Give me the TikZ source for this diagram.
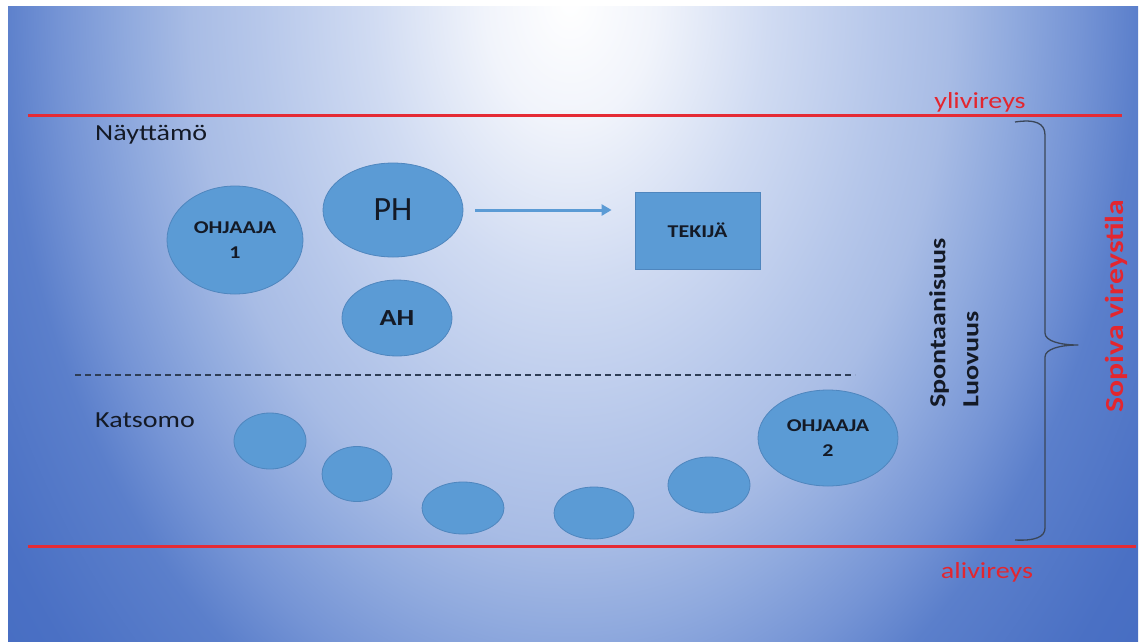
\documentclass[tikz,border=0pt]{standalone}
\usepackage{fontspec}
\setmainfont{Carlito}
\newfontfamily\cw[FakeStretch=1.22]{Carlito}
\usetikzlibrary{shapes.geometric,arrows.meta}
\definecolor{g1}{HTML}{F1F4FB}
\definecolor{g2}{HTML}{D0DBF2}
\definecolor{g3}{HTML}{B6C7EA}
\definecolor{g4}{HTML}{A8BCE5}
\definecolor{g5}{HTML}{90AADE}
\definecolor{g6}{HTML}{7594D5}
\definecolor{g7}{HTML}{5B7FCB}
\definecolor{g8}{HTML}{4A70C4}
\definecolor{g9}{HTML}{4068C0}
\definecolor{nodeblue}{HTML}{5B9BD5}
\definecolor{nodeedge}{HTML}{4F86BE}
\definecolor{ink}{HTML}{141A26}
\definecolor{redline}{HTML}{E52B35}
\definecolor{redtext}{HTML}{E3262F}
\definecolor{dashc}{HTML}{2E3D55}
\definecolor{bracec}{HTML}{3A4658}
\pgfdeclareradialshading{bgshade}{\pgfpointorigin}{color(0bp)=(white); color(3.75bp)=(g1); color(8.75bp)=(g2); color(13.75bp)=(g3); color(16.75bp)=(g4); color(19.5bp)=(g5); color(22.5bp)=(g6); color(25bp)=(g7); color(30bp)=(g8); color(37.5bp)=(g9); color(50bp)=(g9)}
\tikzset{
  person/.style={ellipse, fill=nodeblue, draw=nodeedge, line width=0.8pt, inner sep=0pt, text=ink, align=center, font=\cw\bfseries\fontsize{18}{25}\selectfont},
  boxnode/.style={rectangle, fill=nodeblue, draw=nodeedge, line width=0.8pt, inner sep=0pt, text=ink, font=\cw\bfseries\fontsize{18}{22}\selectfont},
  redrule/.style={draw=redline, line width=3pt},
  redlabel/.style={text=redtext, inner sep=0pt, font=\cw\fontsize{23}{26}\selectfont},
  zonelabel/.style={text=ink, inner sep=0pt, anchor=base west, font=\cw\fontsize{23}{26}\selectfont},
  flowarrow/.style={draw=nodeblue, line width=3pt, -{Triangle[length=10pt,width=11pt]}},
  divider/.style={draw=dashc, line width=2pt, dash pattern=on 6pt off 4pt},
  bracepath/.style={draw=bracec, line width=1.3pt, line join=round}
}
\begin{document}
\begin{tikzpicture}[x=1pt,y=-1pt]
\useasboundingbox (0,0) rectangle (1144,641);
\fill[white] (0,0) rectangle (1144,641);
\begin{scope}
  \clip (8,6) rectangle (1144,641);
  \shade[shading=bgshade] (2,-808) rectangle (1138,808);
\end{scope}

% level lines
\coordinate (topL) at (28,115);
\coordinate (topR) at (1122,115);
\coordinate (botL) at (28,546);
\coordinate (botR) at (1136,546);
\draw[redrule] (topL) -- (topR);
\draw[redrule] (botL) -- (botR);
\node[redlabel, anchor=base] (yli) at (980,108) {ylivireys};
\node[redlabel, anchor=base] (ali) at (987,578) {alivireys};

% zone labels
\node[zonelabel] (nay) at (95,140) {Näyttämö};
\node[zonelabel] (kat) at (95,427) {Katsomo};

% stage
\node[person, minimum width=136pt, minimum height=108pt] (oh1) at (235,240) {OHJAAJA\\1};
\node[person, minimum width=140pt, minimum height=94pt, font=\fontsize{34}{40}\selectfont] (ph) at (393,210) {PH};
\node[person, minimum width=110pt, minimum height=76pt, font=\cw\bfseries\fontsize{23}{26}\selectfont] (ah) at (397,318) {AH};
\node[boxnode, minimum width=125pt, minimum height=77pt] (tek) at (697.5,230.5) {TEKIJÄ};
\draw[flowarrow, shorten <=12pt, shorten >=23pt] (ph.east) -- (ph.east -| tek.west);

% divider
\coordinate (dL) at (75,375);
\coordinate (dR) at (855,375);
\draw[divider] (dL) -- (dR);

% audience
\node[person, minimum width=72pt, minimum height=56pt] (a1) at (270,441) {};
\node[person, minimum width=70pt, minimum height=55pt] (a2) at (357,474) {};
\node[person, minimum width=82pt, minimum height=52pt] (a3) at (463,508) {};
\node[person, minimum width=80pt, minimum height=52pt] (a4) at (594,513) {};
\node[person, minimum width=82pt, minimum height=56pt] (a5) at (709,485) {};
\node[person, minimum width=140pt, minimum height=96pt] (oh2) at (828,438) {OHJAAJA\\2};

% side texts
\node[rotate=90, anchor=west, align=left, inner sep=0pt, text=ink, font=\cw\bfseries\fontsize{23}{33}\selectfont] (spont) at (954,408) {Spontaanisuus\\Luovuus};
\node[rotate=90, inner sep=0pt, text=redtext, font=\cw\bfseries\fontsize{26}{30}\selectfont] (sopiva) at (1116,306) {Sopiva vireystila};

% brace
\draw[bracepath] (1015,122) .. controls (1035,119) and (1045,123) .. (1045,135)
  -- (1045,333) .. controls (1045,341) and (1060,345) .. (1078,345)
  .. controls (1060,345) and (1045,349) .. (1045,357)
  -- (1045,528) .. controls (1045,537) and (1035,541) .. (1015,540);
\end{tikzpicture}
\end{document}
